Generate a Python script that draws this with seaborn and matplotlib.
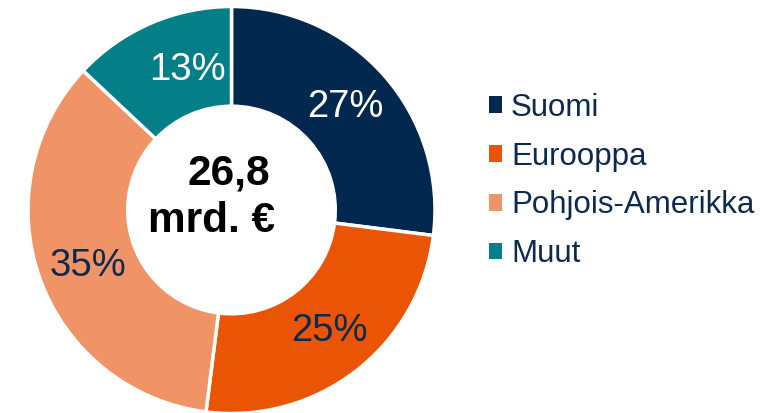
import matplotlib
matplotlib.use("Agg")
import matplotlib.pyplot as plt
import numpy as np
import seaborn as sns

# data
regions = ["Suomi", "Eurooppa", "Pohjois-Amerikka", "Muut"]
shares = [27, 25, 35, 13]
total_value = "26,8"
total_unit = "mrd. €"
region_colors = ["#03284f", "#ea5505", "#f09467", "#057f87"]
pct_colors = ["white", "#0d2a4e", "#0d2a4e", "white"]
# small per-label nudges (degrees, radius) to sit like the original
label_nudge = [(0.6, 0.755), (1.2, 0.765), (1.5, 0.757), (-5.8, 0.72)]

sns.set_theme(style="white")
plt.rcParams['font.family'] = ['Liberation Sans', 'DejaVu Sans']

fig = plt.figure(figsize=(7.65, 4.13), dpi=100)
ax = fig.add_axes([(231.5 - 203.5) / 765, (413 - 210 - 203.5) / 413, 407 / 765, 407 / 413])

palette = sns.color_palette(region_colors)
wedges, texts, autotexts = ax.pie(
    shares, colors=palette, startangle=90, counterclock=False,
    radius=1.0, autopct=lambda p: f"{p:.0f}%", pctdistance=0.76,
    wedgeprops=dict(width=0.49, edgecolor="white", linewidth=2.5),
    textprops=dict(fontsize=27.5))
for w, t, c, (da, r) in zip(wedges, autotexts, pct_colors, label_nudge):
    mid = np.deg2rad((w.theta1 + w.theta2) / 2 + da)
    t.set_position((r * np.cos(mid), r * np.sin(mid)))
    t.set_color(c)

ax.text(-0.015, 0.123, total_value, ha="center", va="baseline", fontsize=30.5,
        fontweight="bold", color="black")
ax.text(-0.098, -0.108, total_unit, ha="center", va="baseline", fontsize=30.5,
        fontweight="bold", color="black")
ax.set_xlim(-1, 1)
ax.set_ylim(-1, 1)
ax.set_aspect("equal")
ax.axis("off")

leg = fig.legend(wedges, regions, loc="center left",
                 bbox_to_anchor=(489 / 765, 1 - 181 / 413),
                 frameon=False, fontsize=22.5, handlelength=0.42, handleheight=0.45,
                 handletextpad=0.28, labelspacing=0.6, borderpad=0, borderaxespad=0)
for t in leg.get_texts():
    t.set_color("#0d2a4e")
for h in leg.legend_handles:
    h.set_edgecolor("none")

fig.savefig("out.png", dpi=100)
